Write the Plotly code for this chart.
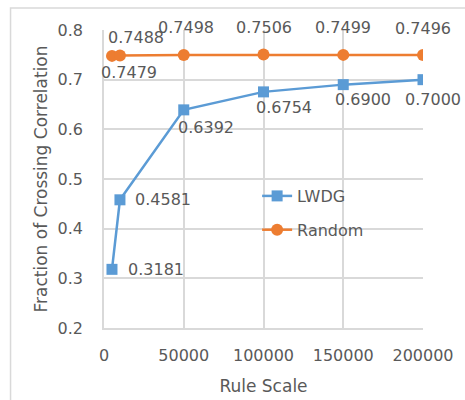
import plotly.graph_objects as go

rule_scale = [5000, 10000, 50000, 100000, 150000, 200000]
lwdg = [0.3181, 0.4581, 0.6392, 0.6754, 0.6900, 0.7000]
random_vals = [0.7479, 0.7488, 0.7498, 0.7506, 0.7499, 0.7496]

# label offsets (pixels) for data labels
lwdg_shift = [(14, 0, "left"), (13, 0, "left"), (-8, -18, "left"), (20, -16, "center"), (20, -15, "center"), (10, -20, "center")]
rand_shift = [(17, -17, "center"), (16, 18, "center"), (2, 27, "center"), (0, 27, "center"), (0, 27, "center"), (0, 27, "center")]

BLUE = "#5b9bd5"
ORANGE = "#ed7d31"
TXT = "#595959"
GRID = "#d9d9d9"
FONT = "DejaVu Sans"

fig = go.Figure()
fig.add_trace(go.Scatter(x=rule_scale, y=lwdg, mode="lines+markers", name="LWDG",
                         line=dict(color=BLUE, width=2.5),
                         marker=dict(symbol="square", size=11, color=BLUE),
                         legendgroup="a"))
fig.add_trace(go.Scatter(x=rule_scale, y=random_vals, mode="lines+markers", name="Random",
                         line=dict(color=ORANGE, width=2.5),
                         marker=dict(symbol="circle", size=12, color=ORANGE),
                         legendgroup="b"))

anns = []
for xv, yv, (dx, dy, xa) in zip(rule_scale, lwdg, lwdg_shift):
    anns.append(dict(x=xv, y=yv, text=f"{yv:.4f}", showarrow=False, xshift=dx, yshift=dy,
                     xanchor=xa, yanchor="middle", font=dict(family=FONT, size=16, color=TXT)))
for xv, yv, (dx, dy, xa) in zip(rule_scale, random_vals, rand_shift):
    anns.append(dict(x=xv, y=yv, text=f"{yv:.4f}", showarrow=False, xshift=dx, yshift=dy,
                     xanchor=xa, yanchor="middle", font=dict(family=FONT, size=16, color=TXT)))

fig.update_layout(
    width=465, height=400,
    margin=dict(l=104, r=42, t=30, b=72),
    paper_bgcolor="white", plot_bgcolor="white",
    font=dict(family=FONT, size=16, color=TXT),
    annotations=anns,
    showlegend=True,
    legend=dict(x=0.48, y=0.50, xanchor="left", yanchor="top", bgcolor="rgba(0,0,0,0)",
                traceorder="grouped", tracegroupgap=10, font=dict(family=FONT, size=16, color=TXT)),
    shapes=[dict(type="rect", xref="paper", yref="paper", x0=-0.293, x1=1.2, y0=-0.3, y1=1.074,
                 line=dict(color=GRID, width=1.5), fillcolor="rgba(0,0,0,0)", layer="below")],
)
fig.update_xaxes(range=[0, 200000], tickvals=[0, 50000, 100000, 150000, 200000],
                 ticktext=["0", "50000", "100000", "150000", "200000"],
                 showgrid=True, gridcolor=GRID, gridwidth=1.5, zeroline=False,
                 showline=True, linecolor=GRID, linewidth=1.5, mirror=False,
                 ticks="outside", ticklen=12, tickcolor="rgba(0,0,0,0)",
                 tickfont=dict(family=FONT, size=16, color=TXT), automargin=False,
                 title=dict(text="Rule Scale", font=dict(family=FONT, size=17, color=TXT), standoff=16))
fig.update_yaxes(range=[0.2, 0.8], dtick=0.1, tickformat=".1f",
                 showgrid=True, gridcolor=GRID, gridwidth=1.5, zeroline=False,
                 showline=True, linecolor=GRID, linewidth=1.5,
                 ticks="outside", ticklen=16, tickcolor="rgba(0,0,0,0)",
                 tickfont=dict(family=FONT, size=16, color=TXT), automargin=False,
                 title=dict(text="Fraction of Crossing Correlation", font=dict(family=FONT, size=17, color=TXT), standoff=6))

fig.write_html("out.html")
